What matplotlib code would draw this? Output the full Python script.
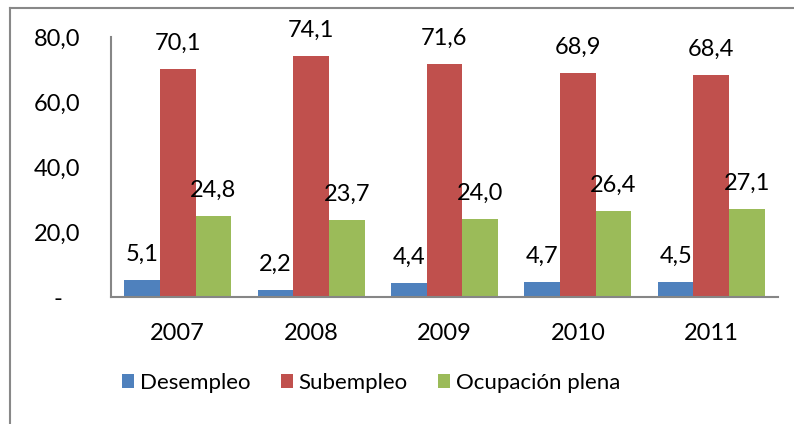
import numpy as np
import matplotlib
matplotlib.use("Agg")
import matplotlib.pyplot as plt
from matplotlib.lines import Line2D

years = ["2007", "2008", "2009", "2010", "2011"]
desempleo = [5.1, 2.2, 4.4, 4.7, 4.5]
subempleo = [70.1, 74.1, 71.6, 68.9, 68.4]
ocupacion = [24.8, 23.7, 24.0, 26.4, 27.1]
series_names = ["Desempleo", "Subempleo", "Ocupación plena"]
colors = ["#4F81BD", "#C0504D", "#9BBB59"]
yticks = [0, 20, 40, 60, 80]
ytick_labels = ["-   ", "20,0", "40,0", "60,0", "80,0"]

plt.rcParams["font.family"] = ["Lato", "DejaVu Sans"]
fs = 17

fig = plt.figure(figsize=(7.94, 4.24), dpi=100)
ax = fig.add_axes([111 / 794, 1 - 297 / 424, (778 - 111) / 794, (297 - 37) / 424])

x = np.arange(len(years))
w = 0.267
for i, (vals, name, c) in enumerate(zip([desempleo, subempleo, ocupacion], series_names, colors)):
    bars = ax.bar(x + (i - 1) * w, vals, w, color=c, label=name)
    for b, v in zip(bars, vals):
        ax.annotate(f"{v:.1f}".replace(".", ","), (b.get_x() + b.get_width() / 2, v),
                    xytext=(0, 18.5), textcoords="offset points",
                    ha="center", va="center", fontsize=fs)

ax.set_xlim(-0.5, len(years) - 0.5)
ax.set_ylim(0, 80)
ax.set_xticks(x)
ax.set_xticklabels(years, fontsize=fs)
ax.set_yticks(yticks)
ax.set_yticklabels(ytick_labels, fontsize=fs)
ax.tick_params(axis="both", length=0)
ax.tick_params(axis="y", pad=22)
ax.tick_params(axis="x", pad=19)
for s in ["top", "right"]:
    ax.spines[s].set_visible(False)
for s in ["left", "bottom"]:
    ax.spines[s].set_color("#868686")
    ax.spines[s].set_linewidth(1.5)

fig.legend(loc="center", bbox_to_anchor=(371 / 794, 1 - 383 / 424), ncol=3,
           frameon=False, fontsize=16, handlelength=0.56, handleheight=0.56,
           handletextpad=0.25, columnspacing=1.35)

# outer chart frame (partly cropped in the source)
fig.add_artist(Line2D([10 / 794, 10 / 794], [0, 1 - 8 / 424], color="#888888", lw=1.5))
fig.add_artist(Line2D([10 / 794, 1], [1 - 8 / 424, 1 - 8 / 424], color="#888888", lw=1.5))

fig.savefig("out.png", dpi=100)
